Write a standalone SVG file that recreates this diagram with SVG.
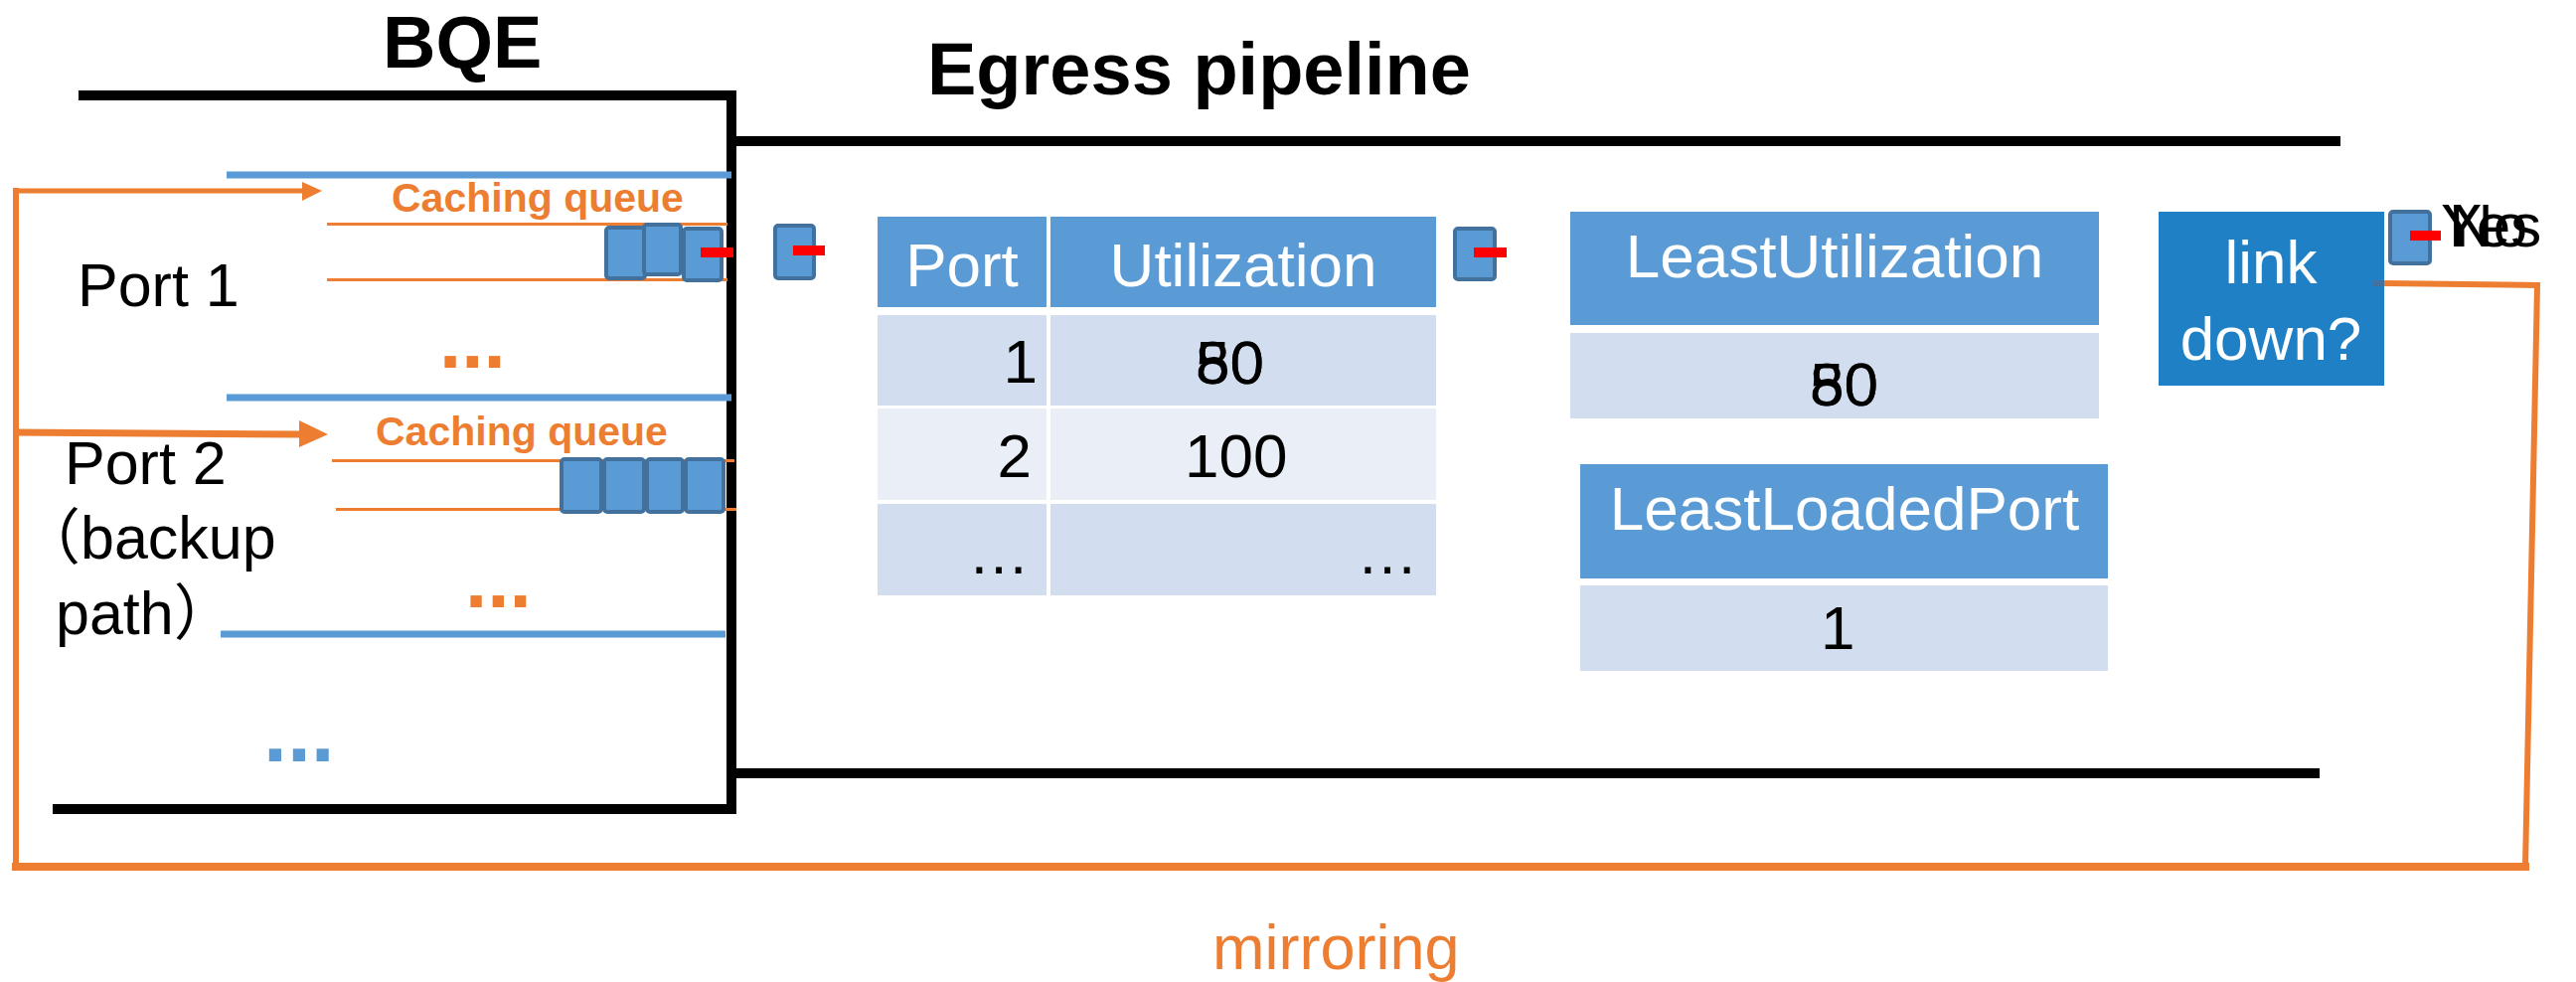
<svg xmlns="http://www.w3.org/2000/svg" width="2592" height="988" viewBox="0 0 2592 988">
  <style>
    .t { font-family: "Liberation Sans", Arial, sans-serif; }
    .title { font-weight: bold; font-size: 74px; fill: #000; }
    .lbl { font-size: 61px; fill: #000; }
    .cq { font-weight: bold; font-size: 41px; fill: #ED7D31; }
    .dots { font-weight: bold; font-size: 80px; }
    .hdr { font-size: 62px; fill: #FFFFFF; }
    .val { font-size: 62px; fill: #000; }
    .wall { stroke: #000; stroke-width: 10; fill: none; }
    .lane { stroke: #5B9BD5; stroke-width: 7; }
    .qline { stroke: #ED7D31; stroke-width: 3; }
    .pkt { fill: #5B9BD5; stroke: #41719C; stroke-width: 4; }
    .mark { fill: #FF0000; }
    .hcell { fill: #5B9BD5; }
    .c1 { fill: #D2DEEF; }
    .c2 { fill: #EAEFF7; }
    .mir { stroke: #ED7D31; fill: none; }
  </style>
  <defs>
    <g id="pkt1">
      <rect class="pkt" x="0" y="0" width="39" height="52" rx="3"/>
    </g>
  </defs>

  <rect width="2592" height="988" fill="#FFFFFF"/>

  <!-- BQE block -->
  <g id="bqe">
    <text class="t title" x="385" y="68">BQE</text>
    <line class="wall" x1="79" y1="96" x2="740" y2="96"/>
    <line class="wall" x1="736" y1="91" x2="736" y2="819" stroke-width="9"/>
    <line class="wall" x1="53" y1="814" x2="740" y2="814"/>

    <!-- port lanes -->
    <line class="lane" x1="228" y1="176" x2="736" y2="176"/>
    <line class="lane" x1="228" y1="400" x2="736" y2="400"/>
    <line class="lane" x1="222" y1="638" x2="730" y2="638"/>

    <text class="t lbl" x="78" y="308">Port 1</text>
    <text class="t lbl" x="65" y="487">Port 2</text>
    <text class="t lbl" x="20" y="562" style="font-family:'Liberation Sans','Noto Sans CJK SC',sans-serif">（backup</text>
    <text class="t lbl" x="56" y="638" style="font-family:'Liberation Sans','Noto Sans CJK SC',sans-serif">path）</text>

    <text class="t dots" x="442" y="370" fill="#ED7D31">...</text>
    <text class="t dots" x="468" y="611" fill="#ED7D31">...</text>
    <text class="t dots" x="265" y="766" fill="#5B9BD5" style="font-size:86px">...</text>
  </g>

  <!-- caching queue of port 1 -->
  <g id="queue1">
    <text class="t cq" x="394" y="213">Caching queue</text>
    <line class="qline" x1="329" y1="225.5" x2="732" y2="225.5"/>
    <line class="qline" x1="329" y1="281.5" x2="732" y2="281.5"/>
    <rect class="pkt" x="610" y="229" width="39" height="51" rx="3"/>
    <rect class="pkt" x="648" y="226" width="37" height="50" rx="3"/>
    <rect class="pkt" x="688" y="230" width="38" height="52" rx="3"/>
    <rect class="mark" x="705" y="249" width="33" height="10"/>
  </g>

  <!-- caching queue of port 2 -->
  <g id="queue2">
    <text class="t cq" x="378" y="448">Caching queue</text>
    <line class="qline" x1="334" y1="463.5" x2="739" y2="463.5"/>
    <line class="qline" x1="338" y1="512.5" x2="741" y2="512.5"/>
    <rect class="pkt" x="565" y="462" width="40" height="53" rx="3"/>
    <rect class="pkt" x="608" y="462" width="40" height="53" rx="3"/>
    <rect class="pkt" x="651" y="462" width="36" height="53" rx="3"/>
    <rect class="pkt" x="690" y="462" width="38" height="53" rx="3"/>
  </g>

  <!-- Egress pipeline -->
  <g id="egress">
    <text class="t title" x="933" y="95">Egress pipeline</text>
    <line class="wall" x1="736" y1="142" x2="2355" y2="142"/>
    <line class="wall" x1="736" y1="778" x2="2334" y2="778"/>
  </g>

  <!-- packets moving through the pipeline -->
  <g id="pkt-a">
    <rect class="pkt" x="780" y="227" width="39" height="53" rx="3"/>
    <rect class="mark" x="798" y="247" width="32" height="10"/>
  </g>
  <g id="pkt-b">
    <rect class="pkt" x="1464" y="230" width="40" height="51" rx="3"/>
    <rect class="mark" x="1483" y="249" width="33" height="10"/>
  </g>
  <g id="pkt-c">
    <rect class="pkt" x="2405" y="213" width="40" height="52" rx="3"/>
    <rect class="mark" x="2425" y="232" width="31" height="10"/>
  </g>

  <!-- utilization table -->
  <g id="util-table">
    <rect class="hcell" x="883" y="218" width="170" height="91"/>
    <rect class="hcell" x="1057" y="218" width="388" height="91"/>
    <rect class="c1" x="883" y="317" width="170" height="91"/>
    <rect class="c1" x="1057" y="317" width="388" height="91"/>
    <rect class="c2" x="883" y="411" width="170" height="92"/>
    <rect class="c2" x="1057" y="411" width="388" height="92"/>
    <rect class="c1" x="883" y="507" width="170" height="92"/>
    <rect class="c1" x="1057" y="507" width="388" height="92"/>

    <text class="t hdr" x="968" y="288" text-anchor="middle">Port</text>
    <text class="t hdr" x="1251" y="288" text-anchor="middle">Utilization</text>

    <text class="t val" x="1044" y="385" text-anchor="end">1</text>
    <text class="t val" x="1203" y="386">50</text>
    <text class="t val" x="1203" y="386">80</text>
    <text class="t val" x="1038" y="480" text-anchor="end">2</text>
    <text class="t val" x="1192" y="480">100</text>
    <text class="t val" x="1036" y="577" text-anchor="end">…</text>
    <text class="t val" x="1427" y="577" text-anchor="end">…</text>
  </g>

  <!-- least utilization register -->
  <g id="least-util">
    <rect class="hcell" x="1580" y="213" width="532" height="114"/>
    <text class="t hdr" x="1846" y="279" text-anchor="middle">LeastUtilization</text>
    <rect class="c1" x="1580" y="335" width="532" height="86"/>
    <text class="t val" x="1821" y="408">50</text>
    <text class="t val" x="1821" y="408">80</text>
  </g>

  <!-- least loaded port register -->
  <g id="least-port">
    <rect class="hcell" x="1590" y="467" width="531" height="115"/>
    <text class="t hdr" x="1856" y="533" text-anchor="middle">LeastLoadedPort</text>
    <rect class="c1" x="1590" y="589" width="531" height="86"/>
    <text class="t val" x="1832" y="653">1</text>
  </g>

  <!-- link state check -->
  <g id="link-check">
    <rect x="2172" y="213" width="227" height="175" fill="#2080C6"/>
    <text class="t hdr" x="2285" y="285" text-anchor="middle">link</text>
    <text class="t hdr" x="2285" y="362" text-anchor="middle">down?</text>
    <text class="t val" x="2456" y="248">Yes</text>
    <text class="t val" x="2464" y="248">No</text>
  </g>

  <!-- mirroring loop back to the queues -->
  <g id="connectors">
    <line x1="2388" y1="285" x2="2400" y2="285" stroke="#41719C" stroke-width="6"/>
    <polyline class="mir" stroke-width="6" points="2399,285 2553,287 2541,872"/>
    <line class="mir" stroke-width="8" x1="2545" y1="872" x2="12" y2="872"/>
    <line class="mir" stroke-width="6" x1="16" y1="876" x2="16" y2="189"/>
    <line class="mir" stroke-width="5" x1="13" y1="192" x2="306" y2="192"/>
    <polygon points="304,183 324,192 304,202" fill="#ED7D31"/>
    <line class="mir" stroke-width="7" x1="13" y1="435" x2="303" y2="437"/>
    <polygon points="301,423 330,437 301,450" fill="#ED7D31"/>
  </g>

  <text class="t" x="1220" y="975" font-size="63" fill="#ED7D31">mirroring</text>
</svg>
